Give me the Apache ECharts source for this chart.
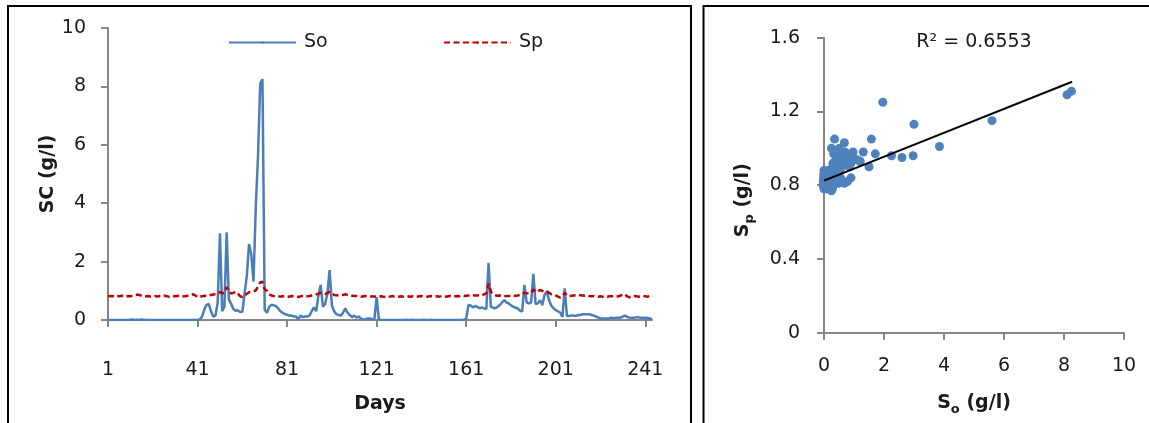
<!DOCTYPE html>
<html><head><meta charset="utf-8">
<script src="https://cdn.jsdelivr.net/npm/echarts@6/dist/echarts.min.js"></script>
<style>html,body{margin:0;padding:0;background:#fff}#c{width:1149px;height:423px}</style>
</head><body><div id="c"></div>
<script>
// ---- data ----
const days = Array.from({length: 244}, (_, i) => String(i + 1));
const so = [
  0,0,0,0,0,0,0,0,0,0,
  0.01,0.02,0,0.01,0,0.02,0.01,0,0,0,
  0,0,0,0,0,0,0,0,0,0,
  0,0,0,0,0,0,0,0,0,0,
  0,0.02,0.12,0.35,0.52,0.55,0.3,0.12,0.15,0.6,
  2.97,0.3,0.45,3.0,0.7,0.55,0.38,0.32,0.33,0.27,
  0.28,0.9,1.5,2.6,2.25,1.31,3.85,5.6,8.1,8.25,
  0.35,0.25,0.45,0.52,0.5,0.48,0.4,0.3,0.25,0.2,
  0.18,0.15,0.15,0.12,0.12,0.02,0.15,0.1,0.12,0.12,
  0.15,0.3,0.43,0.3,0.85,1.2,0.45,0.55,0.9,1.71,
  0.5,0.3,0.2,0.17,0.15,0.25,0.4,0.25,0.17,0.1,
  0.15,0.08,0.12,0.05,0.02,0.03,0.05,0.05,0.03,0.02,
  0.78,0.02,0,0,0,0,0,0,0,0,
  0,0,0,0.01,0,0,0.01,0,0,0,
  0,0.01,0,0,0.01,0,0,0,0,0,
  0,0,0,0,0,0,0,0,0,0.01,
  0.05,0.51,0.5,0.43,0.48,0.45,0.4,0.43,0.4,0.37,
  1.96,0.46,0.42,0.4,0.45,0.51,0.6,0.68,0.6,0.57,
  0.5,0.46,0.42,0.4,0.32,0.29,1.2,0.6,0.57,0.6,
  1.58,0.55,0.57,0.68,0.51,0.86,0.97,0.68,0.5,0.4,
  0.34,0.3,0.25,0.11,1.08,0.14,0.14,0.15,0.15,0.14,
  0.17,0.17,0.2,0.2,0.2,0.2,0.17,0.15,0.12,0.08,
  0.06,0.05,0.05,0.05,0.06,0.08,0.06,0.08,0.08,0.08,
  0.12,0.15,0.1,0.08,0.08,0.08,0.09,0.09,0.08,0.08,
  0.08,0.07,0.05,0.04
];
const sp = [
  0.82,0.81,0.82,0.80,0.82,0.81,0.83,0.82,0.80,0.82,
  0.81,0.83,0.85,0.87,0.86,0.83,0.82,0.81,0.82,0.80,
  0.81,0.82,0.80,0.82,0.81,0.83,0.82,0.80,0.81,0.82,
  0.81,0.82,0.83,0.82,0.81,0.82,0.84,0.86,0.88,0.84,
  0.78,0.80,0.81,0.83,0.82,0.84,0.86,0.87,0.88,0.90,
  0.96,0.92,0.93,1.13,0.98,0.91,0.93,0.97,0.90,0.82,
  0.78,0.84,0.90,0.95,0.96,0.98,1.01,1.15,1.29,1.31,
  1.05,1.00,0.88,0.84,0.82,0.81,0.82,0.80,0.81,0.82,
  0.81,0.80,0.82,0.81,0.80,0.79,0.81,0.82,0.80,0.81,
  0.82,0.84,0.86,0.88,0.90,0.93,0.91,0.89,0.92,0.97,
  0.90,0.86,0.85,0.84,0.85,0.86,0.88,0.86,0.84,0.83,
  0.82,0.82,0.81,0.80,0.81,0.82,0.81,0.80,0.81,0.80,
  0.82,0.80,0.81,0.80,0.79,0.81,0.80,0.82,0.80,0.81,
  0.80,0.81,0.80,0.82,0.81,0.80,0.81,0.79,0.80,0.81,
  0.82,0.80,0.81,0.80,0.82,0.81,0.80,0.81,0.80,0.82,
  0.81,0.80,0.81,0.82,0.80,0.81,0.82,0.81,0.83,0.82,
  0.83,0.84,0.83,0.85,0.84,0.84,0.86,0.85,0.88,0.91,
  1.25,0.97,0.88,0.85,0.83,0.84,0.82,0.81,0.82,0.82,
  0.83,0.82,0.83,0.84,0.86,0.90,0.93,0.92,0.90,0.93,
  1.05,0.96,0.98,1.03,1.00,0.96,0.98,0.93,0.88,0.86,
  0.84,0.80,0.77,0.80,0.94,0.84,0.82,0.83,0.84,0.85,
  0.86,0.85,0.84,0.83,0.84,0.82,0.81,0.82,0.81,0.80,
  0.81,0.80,0.82,0.80,0.81,0.81,0.82,0.80,0.81,0.84,
  0.87,0.88,0.80,0.78,0.80,0.82,0.81,0.80,0.81,0.82,
  0.81,0.80,0.82,0.81
];
// linear trend
const trendIntercept = 0.825;
const trendSlope = 0.0648;
const trendXRange = [0, 8.27];
const r2Label = 'R² = 0.6553';

// ---- chart ----
const FONT = 'DejaVu Sans';
const TXT = '#1a1a1a';
const AX = '#868686';
const scatterData = so.map((v, i) => [v, sp[i]]);
const trendData = trendXRange.map(x => [x, trendIntercept + trendSlope * x]);

const axisLine = {lineStyle: {color: AX, width: 2}};
const axisTick = {length: 7, lineStyle: {color: AX, width: 2}};
const lbl = (m) => ({fontSize: 19, color: TXT, fontFamily: FONT, margin: m});
const legendBase = {top: 33, padding: 0, itemWidth: 67, itemHeight: 3,
  textStyle: {fontSize: 19, color: TXT, fontFamily: FONT, padding: [0,0,0,3]}};

const chart = echarts.init(document.getElementById('c'));
chart.setOption({
  animation: false,
  textStyle: {fontFamily: FONT},
  grid: [
    {left: 108, top: 28, width: 544, height: 292},
    {left: 824, top: 37.7, width: 300, height: 295}
  ],
  legend: [
    Object.assign({data: ['So'], left: 228}, legendBase),
    Object.assign({data: ['Sp'], left: 443}, legendBase)
  ],
  xAxis: [
    {type: 'category', gridIndex: 0, data: days, boundaryGap: false,
     axisLine, axisTick: Object.assign({interval: 39}, axisTick),
     axisLabel: Object.assign({interval: 39}, lbl(41)),
     splitLine: {show: false},
     name: 'Days', nameLocation: 'middle', nameGap: 75,
     nameTextStyle: {fontWeight: 'bold', fontSize: 19, color: TXT, fontFamily: FONT}},
    {type: 'value', gridIndex: 1, min: 0, max: 10, interval: 2,
     axisLine, axisTick, axisLabel: lbl(24), splitLine: {show: false},
     name: '{m|S}{s|o}{m| (g/l)}', nameLocation: 'middle', nameGap: 57,
     nameTextStyle: {rich: {
       m: {fontSize: 19, fontWeight: 'bold', color: TXT, fontFamily: FONT, lineHeight: 26, verticalAlign: 'middle'},
       s: {fontSize: 13, fontWeight: 'bold', color: TXT, fontFamily: FONT, lineHeight: 13, verticalAlign: 'bottom'}
     }}}
  ],
  yAxis: [
    {type: 'value', gridIndex: 0, min: 0, max: 10, interval: 2,
     axisLine: Object.assign({show: true}, axisLine), axisTick: Object.assign({show: true}, axisTick),
     axisLabel: lbl(22), splitLine: {show: false},
     name: 'SC (g/l)', nameLocation: 'middle', nameGap: 35,
     nameTextStyle: {fontWeight: 'bold', fontSize: 19, color: TXT, fontFamily: FONT}},
    {type: 'value', gridIndex: 1, min: 0, max: 1.6, interval: 0.4,
     axisLine: Object.assign({show: true}, axisLine), axisTick: Object.assign({show: true}, axisTick),
     axisLabel: lbl(24), splitLine: {show: false},
     name: '{m|S}{s|p}{m| (g/l)}', nameLocation: 'middle', nameGap: 68,
     nameTextStyle: {padding: [0, 30, 0, 0], rich: {
       m: {fontSize: 19, fontWeight: 'bold', color: TXT, fontFamily: FONT, lineHeight: 26, verticalAlign: 'middle'},
       s: {fontSize: 13, fontWeight: 'bold', color: TXT, fontFamily: FONT, lineHeight: 13, verticalAlign: 'bottom'}
     }}}
  ],
  series: [
    {name: 'So', type: 'line', xAxisIndex: 0, yAxisIndex: 0, data: so, symbol: 'none',
     lineStyle: {color: '#4A7EBB', width: 2.5}, itemStyle: {color: '#4A7EBB'}, z: 2},
    {name: 'Sp', type: 'line', xAxisIndex: 0, yAxisIndex: 0, data: sp, symbol: 'none',
     lineStyle: {color: '#C00000', width: 2.5, type: [6, 3.5]}, itemStyle: {color: '#C00000'}, z: 3},
    {name: 'So vs Sp', type: 'scatter', xAxisIndex: 1, yAxisIndex: 1, data: scatterData,
     symbolSize: 9, itemStyle: {color: '#4F81BD', opacity: 1}, z: 2},
    {name: 'Linear trend', type: 'line', xAxisIndex: 1, yAxisIndex: 1, data: trendData,
     symbol: 'none', lineStyle: {color: '#000', width: 2}, z: 4}
  ],
  graphic: [
    {type: 'rect', shape: {x: 8, y: 6, width: 683, height: 440}, style: {fill: 'none', stroke: '#000', lineWidth: 2}, silent: true},
    {type: 'rect', shape: {x: 703.5, y: 6, width: 480, height: 440}, style: {fill: 'none', stroke: '#000', lineWidth: 2}, silent: true},
    {type: 'text', x: 974, y: 42, style: {text: r2Label, fontSize: 19, fontFamily: FONT, fill: TXT,
      textAlign: 'center', textVerticalAlign: 'middle', align: 'center', verticalAlign: 'middle'}}
  ]
});
</script>
</body></html>
